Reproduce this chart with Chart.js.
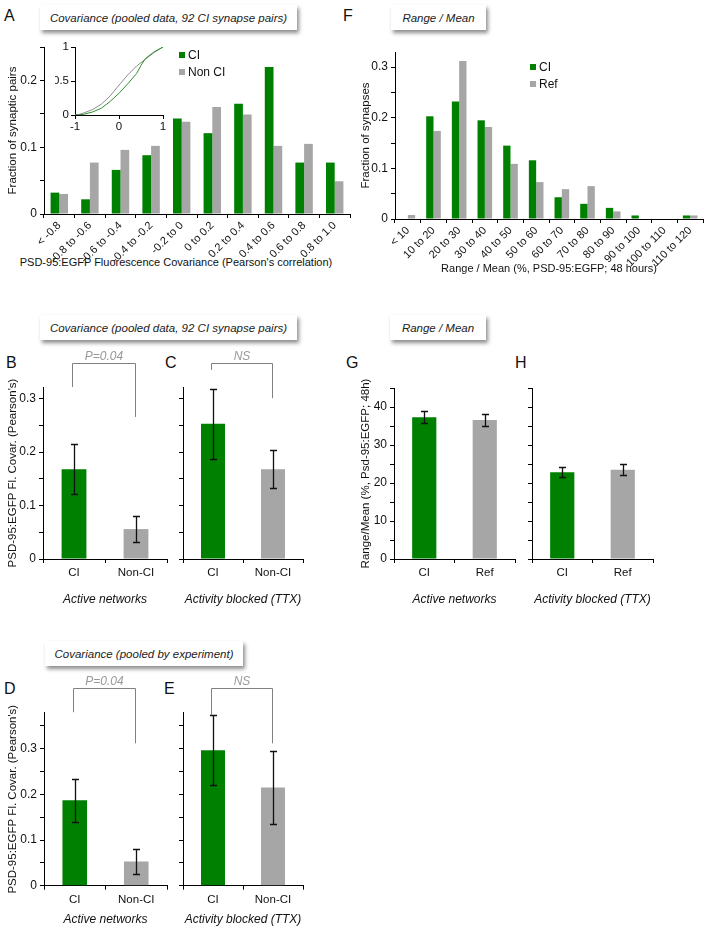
<!DOCTYPE html>
<html>
<head>
<meta charset="utf-8">
<script src="https://cdn.jsdelivr.net/npm/chart.js@4/dist/chart.umd.min.js"></script>
<style>
  body { margin: 0; background: #fff; }
  #page { position: relative; width: 706px; height: 929px; overflow: hidden; font-family: 'Liberation Sans', Arial, sans-serif; }
  canvas { position: absolute; }
  .tbox { position: absolute; background: #fff; box-shadow: 2px 3px 4px rgba(0,0,0,0.45); font: italic 11.5px 'Liberation Sans', Arial, sans-serif; color: #222; display: flex; align-items: center; justify-content: center; }
  .letter { position: absolute; font: 16px/16px 'Liberation Sans', Arial, sans-serif; color: #111; }
  .caption { position: absolute; font: 11px/13px 'Liberation Sans', Arial, sans-serif; color: #111; text-align: center; }
</style>
</head>
<body>
<div id="page">
  <div class="tbox" style="left:40px;top:5px;width:257px;height:25px">Covariance (pooled data, 92 CI synapse pairs)</div>
  <div class="tbox" style="left:391px;top:5px;width:95px;height:25px">Range / Mean</div>
  <div class="tbox" style="left:40px;top:315px;width:257px;height:25px">Covariance (pooled data, 92 CI synapse pairs)</div>
  <div class="tbox" style="left:390px;top:315px;width:96px;height:25px">Range / Mean</div>
  <div class="tbox" style="left:45px;top:641px;width:198px;height:25px">Covariance (pooled by experiment)</div>

  <div class="letter" style="left:4px;top:8px">A</div>
  <div class="letter" style="left:343px;top:8px">F</div>
  <div class="letter" style="left:6px;top:355px">B</div>
  <div class="letter" style="left:165px;top:355px">C</div>
  <div class="letter" style="left:346px;top:355px">G</div>
  <div class="letter" style="left:515px;top:355px">H</div>
  <div class="letter" style="left:4px;top:681px">D</div>
  <div class="letter" style="left:164px;top:681px">E</div>

  <div class="caption" style="left:0;top:256px;width:352px">PSD-95:EGFP Fluorescence Covariance (Pearson's correlation)</div>

  <canvas id="chartA" width="353" height="242" style="left:0;top:30px"></canvas>
  <canvas id="inset" width="115" height="100" style="left:55px;top:40px"></canvas>
  <canvas id="chartF" width="353" height="248" style="left:353px;top:30px"></canvas>
  <canvas id="chartB" width="175" height="264" style="left:0;top:345px"></canvas>
  <canvas id="chartC" width="140" height="264" style="left:175px;top:345px"></canvas>
  <canvas id="chartG" width="170" height="264" style="left:353px;top:345px"></canvas>
  <canvas id="chartH" width="140" height="264" style="left:523px;top:345px"></canvas>
  <canvas id="chartD" width="175" height="269" style="left:0;top:660px"></canvas>
  <canvas id="chartE" width="140" height="269" style="left:175px;top:660px"></canvas>
</div>
<script>
  // panel A: covariance histogram
  var aCategories = ['< -0.8', '-0.8 to -0.6', '-0.6 to -0.4', '-0.4 to -0.2', '-0.2 to 0',
    '0 to 0.2', '0.2 to 0.4', '0.4 to 0.6', '0.6 to 0.8', '0.8 to 1.0'];
  var aCI = [0.032, 0.022, 0.066, 0.088, 0.143, 0.121, 0.165, 0.220, 0.077, 0.077];
  var aNonCI = [0.030, 0.077, 0.096, 0.102, 0.138, 0.160, 0.149, 0.102, 0.105, 0.049];
  var aTicks = [0, 0.05, 0.1, 0.15, 0.2, 0.25];
  var aTickLabels = ['0', '', '0.1', '', '0.2', ''];

  // inset: cumulative distributions
  var insetX = [-1, -0.9, -0.8, -0.6, -0.4, -0.2, 0, 0.2, 0.4, 0.5, 0.6, 0.8, 1];
  var insetCI = [0, 0.005, 0.01, 0.045, 0.10, 0.20, 0.32, 0.46, 0.61, 0.73, 0.83, 0.93, 1];
  var insetNonCI = [0, 0.01, 0.03, 0.08, 0.16, 0.28, 0.44, 0.59, 0.72, 0.77, 0.82, 0.92, 1];
  var insetYTicks = [0, 0.5, 1];
  var insetXTicks = [-1, 0, 1];

  // panel F: range / mean histogram
  var fCategories = ['< 10', '10 to 20', '20 to 30', '30 to 40', '40 to 50', '50 to 60',
    '60 to 70', '70 to 80', '80 to 90', '90 to 100', '100 to 110', '110 to 120'];
  var fCI = [0, 0.203, 0.232, 0.195, 0.145, 0.116, 0.043, 0.030, 0.022, 0.007, 0, 0.007];
  var fRef = [0.008, 0.174, 0.312, 0.182, 0.109, 0.073, 0.059, 0.065, 0.015, 0, 0, 0.007];
  var fTicks = [0, 0.05, 0.1, 0.15, 0.2, 0.25, 0.3];
  var fTickLabels = ['0', '', '0.1', '', '0.2', '', '0.3'];

  // panels B-E: covariance means +- error
  var covLabels = ['CI', 'Non-CI'];
  var bMeans = [0.168, 0.056], bErr = [0.047, 0.025];
  var cMeans = [0.253, 0.168], cErr = [0.065, 0.036];
  var dMeans = [0.187, 0.053], dErr = [0.047, 0.027];
  var eMeans = [0.297, 0.215], eErr = [0.077, 0.080];
  var bcTicks = [0, 0.05, 0.1, 0.15, 0.2, 0.25, 0.3];
  var deTicks = [0, 0.05, 0.1, 0.15, 0.2, 0.25, 0.3, 0.35];
  var covTickLabels = ['0', '', '0.1', '', '0.2', '', '0.3', ''];

  // panels G-H: range/mean means +- error
  var rmLabels = ['CI', 'Ref'];
  var gMeans = [37.3, 36.6], gErr = [1.6, 1.6];
  var hMeans = [22.8, 23.5], hErr = [1.3, 1.5];
  var ghTicks = [0, 5, 10, 15, 20, 25, 30, 35, 40, 45];
  var ghTickLabels = ['0', '', '10', '', '20', '', '30', '', '40', ''];

  var GREEN = '#008000';
  var GREY = '#a6a6a6';
  var FONT = "'Liberation Sans', Arial, sans-serif";

  Chart.defaults.font.family = FONT;
  Chart.defaults.font.size = 11;
  Chart.defaults.color = '#111';

  var errorBars = {
    id: 'errorBars',
    afterDatasetsDraw: function(chart) {
      var ctx = chart.ctx, y = chart.scales.y;
      chart.data.datasets.forEach(function(ds, di) {
        if (!ds.errors) return;
        chart.getDatasetMeta(di).data.forEach(function(bar, i) {
          var top = Math.round(y.getPixelForValue(ds.data[i] + ds.errors[i])) + 0.5;
          var bot = Math.round(y.getPixelForValue(ds.data[i] - ds.errors[i])) + 0.5;
          var x = Math.round(bar.x) + 0.5;
          ctx.save();
          ctx.strokeStyle = '#111';
          ctx.lineWidth = 1.3;
          ctx.beginPath();
          ctx.moveTo(x, top); ctx.lineTo(x, bot);
          ctx.moveTo(x - 3.5, top); ctx.lineTo(x + 3.5, top);
          ctx.moveTo(x - 3.5, bot); ctx.lineTo(x + 3.5, bot);
          ctx.stroke();
          ctx.restore();
        });
      });
    }
  };

  var bracket = {
    id: 'bracket',
    afterDraw: function(chart, args, opts) {
      if (!opts || opts.top === undefined) return;
      var ctx = chart.ctx, x = chart.scales.x, y = chart.scales.y;
      var x0 = Math.round(x.getPixelForValue(0)) - 1.5;
      var x1 = Math.round(x.getPixelForValue(1)) - 0.5;
      var yt = Math.round(y.getPixelForValue(opts.top)) + 0.5;
      ctx.save();
      ctx.strokeStyle = '#808080';
      ctx.lineWidth = 1;
      ctx.beginPath();
      ctx.moveTo(x0, y.getPixelForValue(opts.leftEnd));
      ctx.lineTo(x0, yt);
      ctx.lineTo(x1, yt);
      ctx.lineTo(x1, y.getPixelForValue(opts.rightEnd));
      ctx.stroke();
      ctx.fillStyle = '#999';
      ctx.font = 'italic 12px ' + FONT;
      ctx.textAlign = 'center';
      ctx.textBaseline = 'bottom';
      ctx.fillText(opts.label, (x0 + x1) / 2, yt - 1);
      ctx.restore();
    }
  };

  var boxLegend = {
    id: 'boxLegend',
    afterDraw: function(chart, args, opts) {
      if (!opts || opts.x === undefined) return;
      var ctx = chart.ctx;
      ctx.save();
      ctx.font = '12px ' + FONT;
      ctx.textBaseline = 'middle';
      chart.data.datasets.forEach(function(ds, i) {
        var cy = opts.y + i * opts.gap;
        ctx.fillStyle = ds.backgroundColor;
        ctx.fillRect(opts.x, cy - 3, 6, 6);
        ctx.fillStyle = '#111';
        ctx.fillText(ds.label, opts.x + 9, cy + 0.5);
      });
      ctx.restore();
    }
  };

  function fixWidth(w) {
    return function(s) { s.width = w; s.paddingTop = 0; s.paddingBottom = 0; s.paddingLeft = 0; s.paddingRight = 0; };
  }
  function fixHeight(h) {
    return function(s) { s.height = h; s.paddingTop = 0; s.paddingBottom = 0; s.paddingLeft = 0; s.paddingRight = 0; };
  }
  function setTicks(values) {
    return function(s) { s.ticks = values.map(function(v) { return {value: v}; }); };
  }
  function axisGrid() {
    return {display: true, drawOnChartArea: false, drawTicks: true, tickLength: 4, color: '#000', lineWidth: 1};
  }

  function yAxis(max, tickValues, tickLabels, width, title) {
    return {
      min: 0,
      max: max,
      afterBuildTicks: setTicks(tickValues),
      afterFit: fixWidth(width),
      grid: axisGrid(),
      border: {display: true, color: '#000', width: 1},
      ticks: {padding: 3, font: {size: 12}, callback: function(v, i) { return tickLabels[i] || ''; }},
      title: {display: !!title, text: title || '', font: {size: 11.5}, padding: {top: 5.5, bottom: 0}}
    };
  }

  function histogram(id, labels, series, names, yOpts, pad, xh, xTitle, legendPos) {
    return new Chart(id, {
      type: 'bar',
      data: {
        labels: labels,
        datasets: [
          {label: names[0], data: series[0], backgroundColor: GREEN, categoryPercentage: 0.57, barPercentage: 1},
          {label: names[1], data: series[1], backgroundColor: GREY, categoryPercentage: 0.57, barPercentage: 1}
        ]
      },
      options: {
        responsive: false,
        animation: false,
        devicePixelRatio: 1,
        layout: {padding: pad},
        plugins: {legend: {display: false}, tooltip: {enabled: false}, boxLegend: legendPos},
        scales: {
          x: {
            afterFit: fixHeight(xh),
            grid: axisGrid(),
            border: {display: true, color: '#000', width: 1},
            ticks: {minRotation: 45, maxRotation: 45, padding: 1, autoSkip: false, font: {size: 11}},
            title: {display: !!xTitle, text: xTitle || '', font: {size: 11}, padding: {top: 0, bottom: 2.4}}
          },
          y: yOpts
        }
      },
      plugins: [boxLegend]
    });
  }

  function meanBars(id, labels, means, errs, yOpts, pad, xh, xTitle, br) {
    return new Chart(id, {
      type: 'bar',
      data: {
        labels: labels,
        datasets: [{
          label: 'mean',
          data: means,
          errors: errs,
          backgroundColor: [GREEN, GREY],
          categoryPercentage: 1,
          barPercentage: 0.4
        }]
      },
      options: {
        responsive: false,
        animation: false,
        devicePixelRatio: 1,
        layout: {padding: pad},
        plugins: {legend: {display: false}, tooltip: {enabled: false}, bracket: br || {}},
        scales: {
          x: {
            afterFit: fixHeight(xh),
            grid: axisGrid(),
            border: {display: true, color: '#000', width: 1},
            ticks: {padding: 3, font: {size: 11.5}},
            title: {display: true, text: xTitle, font: {size: 12, style: 'italic'}, padding: {top: 0, bottom: 2.4}}
          },
          y: yOpts
        }
      },
      plugins: [errorBars, bracket]
    });
  }

  histogram('chartA', aCategories, [aCI, aNonCI], ['CI', 'Non CI'],
    yAxis(0.25, aTicks, aTickLabels, 44, 'Fraction of synaptic pairs'),
    {top: 17, right: 3, left: 0, bottom: 0}, 58, '', {x: 179, y: 25, gap: 17});

  histogram('chartF', fCategories, [fCI, fRef], ['CI', 'Ref'],
    yAxis(0.33, fTicks, fTickLabels, 42, 'Fraction of synapses'),
    {top: 22, right: 3, left: 0, bottom: 0}, 59, 'Range / Mean (%, PSD-95:EGFP; 48 hours)', {x: 177, y: 37, gap: 17});

  new Chart('inset', {
    type: 'line',
    data: {
      datasets: [
        {label: 'CI', data: insetX.map(function(x, i) { return {x: x, y: insetCI[i]}; }), borderColor: '#2f8f2f', borderWidth: 1, pointRadius: 0, tension: 0},
        {label: 'Non CI', data: insetX.map(function(x, i) { return {x: x, y: insetNonCI[i]}; }), borderColor: '#8c8c8c', borderWidth: 1, pointRadius: 0, tension: 0}
      ]
    },
    options: {
      responsive: false,
      animation: false,
      devicePixelRatio: 1,
      layout: {padding: {top: 7, right: 7, left: 0, bottom: 0}, autoPadding: false},
      plugins: {legend: {display: false}, tooltip: {enabled: false}},
      scales: {
        x: {
          type: 'linear', min: -1, max: 1,
          afterBuildTicks: setTicks(insetXTicks),
          afterFit: fixHeight(25),
          grid: axisGrid(),
          border: {display: true, color: '#000', width: 1},
          ticks: {padding: 1, font: {size: 11.5}, callback: function(v) { return String(v); }}
        },
        y: {
          min: 0, max: 1,
          afterBuildTicks: setTicks(insetYTicks),
          afterFit: fixWidth(20),
          grid: axisGrid(),
          border: {display: true, color: '#000', width: 1},
          ticks: {padding: 2, font: {size: 11.5}, callback: function(v) { return String(v); }}
        }
      }
    }
  });

  meanBars('chartB', covLabels, bMeans, bErr,
    yAxis(0.322, bcTicks, covTickLabels, 43, "PSD-95:EGFP Fl. Covar. (Pearson's)"),
    {top: 42, right: 8, left: 0, bottom: 0}, 50, 'Active networks',
    {top: 0.367, leftEnd: 0.322, rightEnd: 0.266, label: 'P=0.04'});

  meanBars('chartC', covLabels, cMeans, cErr,
    yAxis(0.322, bcTicks, [], 8, ''),
    {top: 42, right: 12, left: 0, bottom: 0}, 50, 'Activity blocked (TTX)',
    {top: 0.367, leftEnd: 0.354, rightEnd: 0.301, label: 'NS'});

  meanBars('chartG', rmLabels, gMeans, gErr,
    yAxis(45, ghTicks, ghTickLabels, 41, 'Range/Mean (%, Psd-95:EGFP; 48h)'),
    {top: 43, right: 8, left: 0, bottom: 0}, 50, 'Active networks');

  meanBars('chartH', rmLabels, hMeans, hErr,
    yAxis(45, ghTicks, [], 9, ''),
    {top: 43, right: 10, left: 0, bottom: 0}, 50, 'Activity blocked (TTX)');

  meanBars('chartD', covLabels, dMeans, dErr,
    yAxis(0.379, deTicks, covTickLabels, 44, "PSD-95:EGFP Fl. Covar. (Pearson's)"),
    {top: 52.7, right: 8, left: 0, bottom: 0}, 43.3, 'Active networks',
    {top: 0.433, leftEnd: 0.380, rightEnd: 0.312, label: 'P=0.04'});

  meanBars('chartE', covLabels, eMeans, eErr,
    yAxis(0.379, deTicks, [], 8, ''),
    {top: 52.7, right: 12, left: 0, bottom: 0}, 43.3, 'Activity blocked (TTX)',
    {top: 0.433, leftEnd: 0.374, rightEnd: 0.312, label: 'NS'});
</script>
</body>
</html>
